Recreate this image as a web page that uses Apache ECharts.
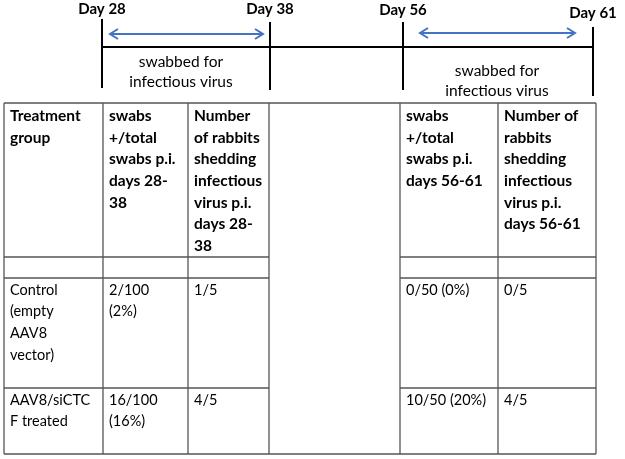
<!DOCTYPE html>
<html>
<head>
<meta charset="utf-8">
<script src="https://cdn.jsdelivr.net/npm/echarts@6/dist/echarts.min.js"></script>
<style>html,body{margin:0;padding:0;background:#fff;}#c{width:625px;height:459px;}</style>
</head>
<body>
<div id="c"></div>
<script>
// ---- data ----
const timelineDays = ['Day 28', 'Day 38', 'Day 56', 'Day 61'];
const swabPeriodLabel = 'swabbed for\ninfectious virus';
const headerLeft = ['Treatment\ngroup', 'swabs\n+/total\nswabs p.i.\ndays 28-\n38', 'Number\nof rabbits\nshedding\ninfectious\nvirus p.i.\ndays 28-\n38'];
const headerRight = ['swabs\n+/total\nswabs p.i.\ndays 56-61', 'Number of\nrabbits\nshedding\ninfectious\nvirus p.i.\ndays 56-61'];
const groups = ['Control\n(empty\nAAV8\nvector)', 'AAV8/siCTC\nF treated'];
const swabs28 = ['2/100\n(2%)', '16/100\n(16%)'];
const rabbits28 = ['1/5', '4/5'];
const swabs56 = ['0/50 (0%)', '10/50 (20%)'];
const rabbits56 = ['0/5', '4/5'];

// ---- layout (diagram units on hidden axes) ----
const L = {
  dayX: [102, 270, 403, 593],
  dayLabelY: [9, 9, 10, 13],
  dayTop: [19, 22, 22, 27],
  dayBottom: [88, 90, 90, 96],
  timelineY: 47,
  arrows: [[110, 263, 34], [420, 575, 33]],
  periodText: [[181, 52], [497, 61]],
  colX: [4, 103, 188, 269, 400, 498, 596],
  rowY: [103, 257, 278, 388, 454],
  pad: 6,
  lineH: 21.7,
  font: 'Lato, "Open Sans", sans-serif',
  fontSize: 14.5,
  headSize: 15.5
};

const chart = echarts.init(document.getElementById('c'), null, {renderer: 'canvas'});

function renderItem(params, api) {
  const P = (x, y) => api.coord([x, y]);
  const ch = [];
  const line = (x1, y1, x2, y2, color, w) => {
    const a = P(x1, y1), b = P(x2, y2);
    ch.push({type: 'line', shape: {x1: a[0], y1: a[1], x2: b[0], y2: b[1]}, style: {stroke: color, lineWidth: w}});
  };
  const text = (x, y, s, bold, align, size, lh) => {
    const p = P(x, y);
    ch.push({type: 'text', x: p[0], y: p[1], style: {
      text: s, fill: '#000', font: (bold ? 'bold ' : '') + (size || L.fontSize) + 'px ' + L.font,
      align: align || 'left', verticalAlign: 'top', lineHeight: lh || L.lineH
    }});
  };
  // timeline
  line(L.dayX[0], L.timelineY, L.dayX[3], L.timelineY, '#000', 2);
  timelineDays.forEach((d, i) => {
    line(L.dayX[i], L.dayTop[i], L.dayX[i], L.dayBottom[i], '#000', 2);
    const p = P(L.dayX[i], L.dayLabelY[i]);
    ch.push({type: 'text', x: p[0], y: p[1], style: {text: d, fill: '#000', font: 'bold 15px ' + L.font, align: 'center', verticalAlign: 'middle'}});
  });
  // arrows
  L.arrows.forEach(([xa, xb, y]) => {
    line(xa + 1, y, xb - 1, y, '#4472C4', 2);
    [[xa, 1], [xb, -1]].forEach(([x, dir]) => {
      const t = P(x, y), u = P(x + dir * 8, y - 5), v = P(x + dir * 8, y + 5);
      ch.push({type: 'polyline', shape: {points: [u, t, v]}, style: {stroke: '#4472C4', lineWidth: 2, fill: null}});
    });
  });
  // period labels
  L.periodText.forEach(([x, y]) => text(x, y, swabPeriodLabel, false, 'center', 15.5, 20));

  // table borders
  const C = L.colX, R = L.rowY, G = '#555', W = 1.3;
  line(C[0], R[0], C[6], R[0], G, W);
  line(C[0], R[4], C[6], R[4], G, W);
  C.forEach(x => line(x, R[0], x, R[4], G, W));
  [R[1], R[2], R[3]].forEach(y => { line(C[0], y, C[3], y, G, W); line(C[4], y, C[6], y, G, W); });

  // header text
  const cols = [0, 1, 2, 4, 5];
  const headers = headerLeft.concat(headerRight);
  headers.forEach((h, i) => text(C[cols[i]] + L.pad, R[0] + 2, h, true, 'left', L.headSize));
  // body text
  const body = [groups, swabs28, rabbits28, swabs56, rabbits56];
  [0, 1].forEach(r => {
    body.forEach((arr, i) => text(C[cols[i]] + L.pad, R[2 + r] + 1, arr[r], false));
  });
  return {type: 'group', children: ch};
}

chart.setOption({
  animation: false,
  grid: {left: 0, right: 0, top: 0, bottom: 0},
  xAxis: {type: 'value', min: 0, max: 625, show: false},
  yAxis: {type: 'value', min: 0, max: 459, inverse: true, show: false},
  series: [{type: 'custom', renderItem: renderItem, data: [[0, 0]], silent: true, clip: false}]
});
</script>
</body>
</html>
